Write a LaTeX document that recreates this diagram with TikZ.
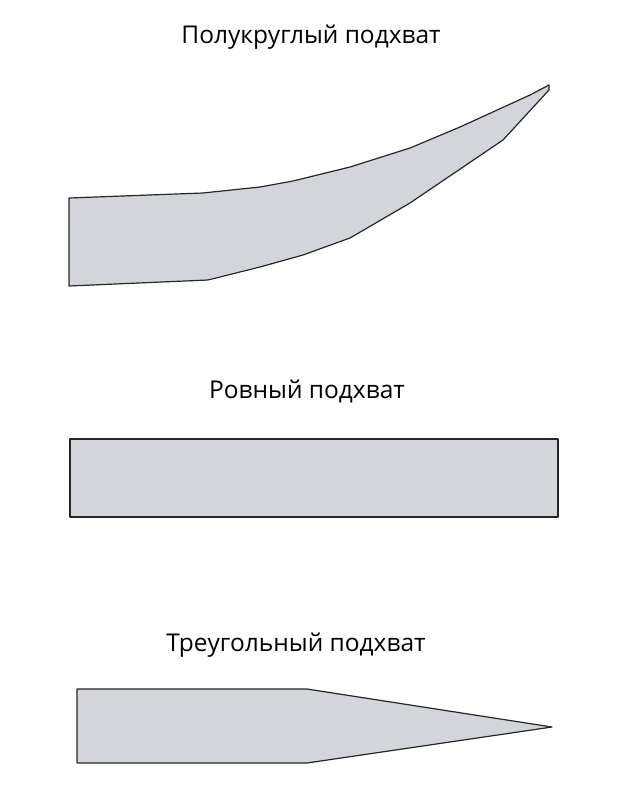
\documentclass[tikz,border=0pt]{standalone}
\usepackage{fontspec}
\setmainfont{Open Sans}
\tikzset{blade/.style={draw=black!85,line width=1.2pt,fill=bladegray,line join=round},
         title/.style={anchor=base,inner sep=0pt,font=\fontsize{24.5}{28}\selectfont}}
\definecolor{bladegray}{RGB}{210,214,218}
\begin{document}
\begin{tikzpicture}[x=1pt,y=-1pt]
\useasboundingbox (0,0) rectangle (620,789);
\node [title] (t1) at (311,44) {Полукруглый подхват};
\node [title] (t2) at (307,398) {Ровный подхват};
\node [title] (t3) at (296,651) {Треугольный подхват};
\draw [blade] (69,198) -- (203,193) -- (260,187) -- (293,181) -- (350,167) -- (410,148)
  -- (460,127) -- (530,95) -- (549,85) -- (549,90) -- (503,140) -- (410,203) -- (350,238)
  -- (303,255) -- (260,267) -- (208,280) -- (69,286) -- cycle;
\draw [blade] (70,439) rectangle (558,517);
\draw [blade] (77,689) -- (307,689) -- (552,727) -- (307,763) -- (77,763) -- cycle;
\end{tikzpicture}
\end{document}
